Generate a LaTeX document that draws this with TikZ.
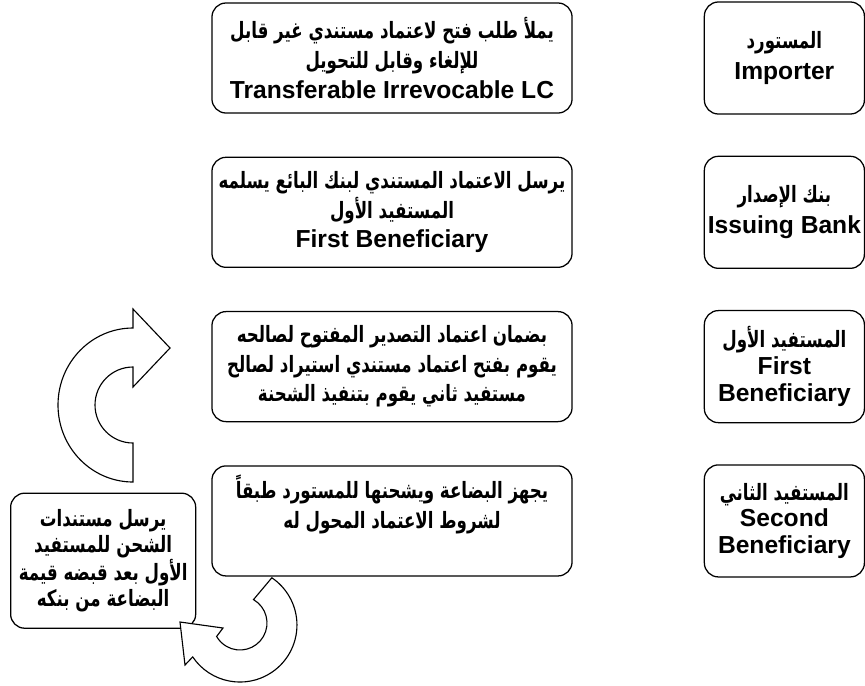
\documentclass[tikz,border=0pt]{standalone}
\usepackage{fontspec}
\setmainfont{Liberation Sans}
\newfontfamily\arabicfont[Script=Arabic,FakeStretch=0.74]{DejaVu Sans Bold}
\TeXXeTstate=1
\usetikzlibrary{positioning}
\newcommand{\artext}[1]{{\arabicfont\fontsize{16}{21}\selectfont\beginR #1\endR}}
\tikzset{
  box/.style={draw, line width=0.9pt, rounded corners=10pt, align=center,
              font=\bfseries\fontsize{17.5}{21}\selectfont, inner sep=2pt},
  actbox/.style={box, minimum width=9cm, minimum height=2.75cm},
  rolebox/.style={box, minimum width=4cm, minimum height=2.8cm,
                  font=\bfseries\fontsize{17.5}{19}\selectfont},
  sendbox/.style={box, minimum width=4.625cm, minimum height=3.375cm,
                  font=\bfseries\fontsize{17.5}{18.5}\selectfont},
  bentarrow/.style={draw, fill=white, line width=0.8pt, line join=miter},
}
\begin{document}
\begin{tikzpicture}[x=0.025cm, y=-0.025cm, node distance=1.075cm and 3.275cm]
  \useasboundingbox (0,0) rectangle (865,685);

  \node[actbox]              (A) at (392,58) {\artext{يملأ طلب فتح لاعتماد مستندي غير قابل}\\
    \artext{للإلغاء وقابل للتحويل}\\ Transferable Irrevocable LC};
  \node[actbox, below=of A]  (B) {\artext{يرسل الاعتماد المستندي لبنك البائع يسلمه}\\
    \artext{المستفيد الأول}\\ First Beneficiary};
  \node[actbox, below=of B]  (C) {\artext{بضمان اعتماد التصدير المفتوح لصالحه}\\
    \artext{يقوم بفتح اعتماد مستندي استيراد لصالح}\\ \artext{مستفيد ثاني يقوم بتنفيذ الشحنة}};
  \node[actbox, below=of C]  (D) {\artext{يجهز البضاعة ويشحنها للمستورد طبقاً}\\
    \artext{لشروط الاعتماد المحول له}\\ \strut};

  \node[rolebox, right=of A] (W) {\artext{المستورد}\\[3pt] Importer};
  \node[rolebox, right=of B] (X) {\artext{بنك الإصدار}\\[3pt] Issuing Bank};
  \node[rolebox, right=of C] (Y) {\artext{المستفيد الأول}\\ First\\ Beneficiary};
  \node[rolebox, right=of D] (Z) {\artext{المستفيد الثاني}\\ Second\\ Beneficiary};

  \node[sendbox, below left=-2.1cm and 0.375cm of D] (E) {\artext{يرسل مستندات}\\
    \artext{الشحن للمستفيد}\\ \artext{الأول بعد قبضه قيمة}\\ \artext{البضاعة من بنكه}};

  % curved block arrows
  \draw[bentarrow] (133,482) arc[start angle=90, end angle=270, x radius=75, y radius=77]
    -- (133,309) -- (170,348) -- (133,387) -- (133,367)
    arc[start angle=270, end angle=90, radius=38] -- cycle;
  \draw[bentarrow] (180,622) -- (185,665) -- (192.7,656.9)
    arc[start angle=146, end angle=-56, radius=57] -- (253.5,599.6)
    arc[start angle=-60, end angle=150, radius=27] -- (223,628) -- cycle;
\end{tikzpicture}
\end{document}
